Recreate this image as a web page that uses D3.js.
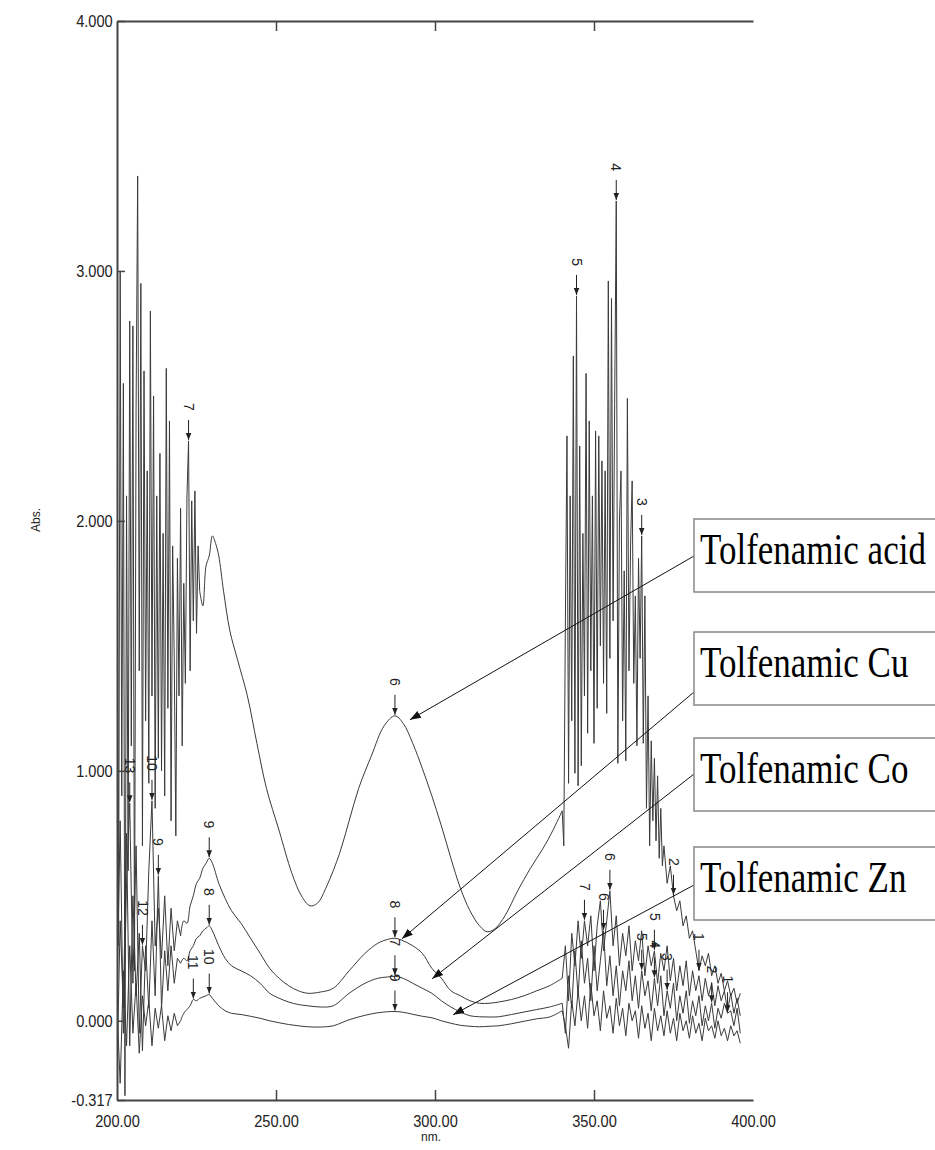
<!DOCTYPE html>
<html>
<head>
<meta charset="utf-8">
<script src="https://cdn.jsdelivr.net/npm/d3@7"></script>
<style>
  body { margin: 0; background: #fff; }
  svg { display: block; }
</style>
</head>
<body>
<svg id="chart" width="935" height="1150"></svg>
<script>
// ---- axis ticks ----
const xTicks = [200, 250, 300, 350, 400];
const yTicks = [4, 3, 2, 1, 0, -0.317];

// ---- Tolfenamic acid ----
// 200 - 226 nm, every 0.5 nm (noisy, saturated)
const acidLeft = [
  2.65, 0.30, 3.00, 0.90, 2.55, -0.30, 2.10, 0.60, 2.80, 1.10,
  2.78, 0.20, 2.45, 3.38, 1.40, 2.95, 0.70, 2.60, 1.20, 2.20,
  0.95, 2.84, 1.30, 2.50, 0.85, 2.10, 1.05, 2.27, 1.00, 1.95,
  0.90, 2.61, 1.25, 2.40, 0.80, 1.90, 1.45, 0.74, 1.85, 1.30,
  2.05, 1.10, 1.75, 1.35, 2.10, 2.32, 1.40, 2.08, 1.60, 2.12,
  1.55, 1.90, 1.72
];
const acidMidNm = [226, 227, 228, 229, 230, 231, 232, 233.5, 235.5, 238, 241, 244, 247, 251, 255, 258,
  260.7, 263, 266, 270, 273, 276, 280, 284, 287.4, 290, 293, 296, 299, 302, 305, 308, 311, 314,
  316.4, 319, 322, 326, 330, 334, 337, 340];
const acidMid = [1.72, 1.66, 1.82, 1.86, 1.94, 1.91, 1.86, 1.72, 1.56, 1.44, 1.30, 1.11, 0.93, 0.76, 0.59, 0.50,
  0.46, 0.47, 0.54, 0.67, 0.80, 0.93, 1.06, 1.18, 1.22, 1.19, 1.11, 1.01, 0.90, 0.78, 0.65, 0.53, 0.44, 0.38,
  0.356, 0.37, 0.42, 0.52, 0.61, 0.69, 0.76, 0.84];
// 340 - 372 nm, every 0.5 nm
const acidRight = [
  0.84, 0.70, 1.60, 2.34, 0.95, 2.10, 1.20, 2.66, 0.99, 2.90,
  0.94, 2.30, 1.02, 1.95, 1.30, 2.59, 1.15, 2.40, 1.40, 2.10,
  1.11, 2.36, 1.25, 2.34, 1.50, 2.24, 1.35, 2.20, 1.23, 2.96,
  1.45, 2.89, 1.60, 2.47, 3.28, 1.03, 2.00, 2.20, 1.20, 1.80,
  1.04, 2.49, 1.40, 1.90, 2.16, 1.35, 1.70, 1.10, 1.85, 1.45,
  1.94, 1.11, 1.70, 0.85, 1.30, 0.70, 1.12, 0.80, 1.05, 0.72,
  0.98, 0.65, 0.85, 0.62, 0.70
];
// 373 - 396 nm, every 1 nm
const acidTail = [0.55, 0.62, 0.50, 0.44, 0.48, 0.38, 0.42, 0.33, 0.36, 0.28, 0.20, 0.26,
  0.22, 0.27, 0.18, 0.22, 0.15, 0.19, 0.12, 0.16, 0.10, 0.13, 0.07, 0.11];

// ---- metal complexes ----
// 200 - 220 nm, every 1 nm
const cuLeft = [0.10, 0.80, -0.05, 0.55, 0.87, 0.15, 0.70, -0.05, 0.30, 0.20, 0.60, 0.88, 0.30, 0.45, 0.25, 0.50, 0.22, 0.45, 0.28, 0.40, 0.34];
const coLeft = [-0.20, 0.40, 0.05, 0.75, -0.10, 0.50, 0.10, 0.35, -0.12, 0.30, 0.05, 0.40, 0.10, 0.58, 0.05, 0.28, 0.12, 0.30, 0.15, 0.25, 0.23];
const znLeft = [0.05, -0.25, 0.20, -0.10, 0.30, -0.05, 0.15, -0.13, 0.10, -0.02, 0.08, -0.10, 0.05, -0.03, 0.06, -0.08, 0.02, -0.04, 0.03, -0.02, 0.00];

const metalMidNm = [220, 221, 222, 223, 224, 225, 226, 227, 228, 229, 230, 232, 234, 236, 239, 242, 245, 248,
  251, 254, 257, 260, 264, 268, 273, 278, 282, 285, 287.4, 290, 293, 296, 299, 302, 305, 308, 311, 314,
  317, 320, 324, 328, 332, 336, 340];
const cuMid = [0.34, 0.40, 0.39, 0.46, 0.50, 0.55, 0.57, 0.61, 0.63, 0.65, 0.63, 0.55, 0.49, 0.44, 0.39, 0.33, 0.27, 0.21,
  0.17, 0.14, 0.12, 0.11, 0.115, 0.13, 0.20, 0.27, 0.31, 0.325, 0.33, 0.32, 0.30, 0.27, 0.21, 0.17, 0.12, 0.10, 0.08, 0.07,
  0.07, 0.075, 0.085, 0.10, 0.12, 0.14, 0.17];
const coMid = [0.23, 0.25, 0.24, 0.28, 0.30, 0.33, 0.34, 0.36, 0.37, 0.38, 0.36, 0.30, 0.25, 0.22, 0.20, 0.18, 0.15, 0.11,
  0.09, 0.075, 0.065, 0.06, 0.055, 0.06, 0.11, 0.15, 0.17, 0.175, 0.178, 0.17, 0.15, 0.13, 0.11, 0.08, 0.055, 0.035, 0.02, 0.016,
  0.015, 0.016, 0.025, 0.035, 0.045, 0.055, 0.07];
const znMid = [0.00, 0.03, 0.045, 0.06, 0.085, 0.08, 0.09, 0.095, 0.10, 0.105, 0.09, 0.06, 0.04, 0.03, 0.025, 0.018, 0.01, 0.0,
  -0.008, -0.015, -0.02, -0.024, -0.025, -0.02, 0.004, 0.022, 0.032, 0.036, 0.037, 0.034, 0.026, 0.018, 0.012, 0.0, -0.01, -0.018, -0.022, -0.024,
  -0.022, -0.02, -0.012, -0.002, 0.008, 0.015, 0.04];

// 340 - 396 nm, every 1 nm
const cuRight = [
  0.17, 0.30, 0.08, 0.35, 0.22, 0.40, 0.25, 0.40, 0.30, 0.42,
  0.20, 0.38, 0.48, 0.28, 0.40, 0.52, 0.30, 0.42, 0.22, 0.35,
  0.26, 0.38, 0.20, 0.32, 0.24, 0.36, 0.18, 0.30, 0.22, 0.28,
  0.15, 0.27, 0.20, 0.30, 0.16, 0.25, 0.12, 0.22, 0.14, 0.24,
  0.10, 0.20, 0.12, 0.18, 0.08, 0.17, 0.10, 0.15, 0.06, 0.14,
  0.08, 0.12, 0.04, 0.11, 0.03, 0.09, 0.02
];
const coRight = [
  0.07, -0.05, 0.18, 0.05, 0.28, 0.10, 0.32, 0.15, 0.25, 0.08,
  0.30, 0.12, 0.24, 0.36, 0.14, 0.26, 0.10, 0.22, 0.06, 0.20,
  0.12, 0.24, 0.08, 0.18, 0.05, 0.20, 0.10, 0.16, 0.04, 0.17,
  0.06, 0.18, 0.02, 0.12, 0.05, 0.15, 0.00, 0.10, 0.03, 0.12,
  -0.01, 0.08, 0.02, 0.10, -0.02, 0.06, 0.00, 0.07, -0.03, 0.05,
  0.01, 0.07, 0.03, 0.04, -0.02, 0.05, -0.05
];
const znRight = [
  0.04, -0.02, -0.11, 0.08, -0.02, 0.12, 0.00, 0.10, -0.03, 0.15,
  0.02, 0.08, -0.04, 0.12, 0.01, 0.06, -0.05, 0.09, -0.02, 0.05,
  -0.06, 0.07, 0.00, 0.04, -0.07, 0.06, -0.03, 0.03, -0.08, 0.05,
  -0.04, 0.02, -0.06, 0.04, -0.05, 0.01, -0.08, 0.03, -0.04, 0.00,
  -0.07, 0.02, -0.05, -0.01, -0.08, 0.01, -0.04, -0.02, -0.07, 0.00,
  -0.06, -0.03, -0.08, -0.02, -0.06, -0.04, -0.09
];

// ---- peak picks [nm, label] ----
const acidPeaks = [[222.5, "7"], [287.4, "6"], [344.5, "5"], [357, "4"], [365, "3"], [375, "2"], [383, "1"]];
const cuPeaks = [[204, "13"], [208, "12"], [211, "10"], [229, "9"], [287.4, "8"], [347, "7"], [355, "6"], [369, "5"]];
const coPeaks = [[213, "9"], [229, "8"], [287.4, "7"], [353, "6"], [365, "5"], [369, "4"], [373, "3"], [387, "2"], [392, "1"]];
const znPeaks = [[224, "11"], [229, "10"], [287.4, "9"]];

// ---- legend boxes and their pointers ----
const legendNames = ["Tolfenamic acid", "Tolfenamic Cu", "Tolfenamic Co", "Tolfenamic Zn"];
const pointerNm = [292.1, 289.6, 299.1, 305.7];
const pointerAbs = [1.204, 0.328, 0.168, 0.024];

// layout
const boxTop = [519, 632, 738, 847];
const boxAnchor = [37, 60, 36, 38];

const svg = d3.select("#chart");
const x = d3.scaleLinear([200, 400], [117, 753]);
const y = d3.scaleLinear([-0.317, 4], [1100, 21]);

const zip = (nm, v) => nm.map((d, i) => [d, v[i]]);
const grid = (a, b, s) => d3.range(a, b + s / 2, s);

const series = [
  {name: "acid", left: zip(grid(200, 226, 0.5), acidLeft), mid: zip(acidMidNm, acidMid),
    right: zip(grid(340, 372, 0.5), acidRight).concat(zip(grid(373, 396, 1), acidTail)), peaks: acidPeaks},
  {name: "cu", left: zip(grid(200, 220, 1), cuLeft), mid: zip(metalMidNm, cuMid),
    right: zip(grid(340, 396, 1), cuRight), peaks: cuPeaks},
  {name: "co", left: zip(grid(200, 220, 1), coLeft), mid: zip(metalMidNm, coMid),
    right: zip(grid(340, 396, 1), coRight), peaks: coPeaks},
  {name: "zn", left: zip(grid(200, 220, 1), znLeft), mid: zip(metalMidNm, znMid),
    right: zip(grid(340, 396, 1), znRight), peaks: znPeaks}
];

const defs = svg.append("defs");
defs.append("clipPath").attr("id", "plot")
  .append("rect").attr("x", 117).attr("y", 21).attr("width", 636).attr("height", 1079);
defs.append("marker")
  .attr("id", "pointer")
  .attr("viewBox", "0 -5 10 10")
  .attr("refX", 10).attr("refY", 0)
  .attr("markerWidth", 11).attr("markerHeight", 11)
  .attr("markerUnits", "userSpaceOnUse")
  .attr("orient", "auto")
  .append("path").attr("d", "M0,-3.6L10,0L0,3.6Z").attr("fill", "#111");
defs.append("marker")
  .attr("id", "peak")
  .attr("viewBox", "0 -5 10 10")
  .attr("refX", 10).attr("refY", 0)
  .attr("markerWidth", 7).attr("markerHeight", 7)
  .attr("markerUnits", "userSpaceOnUse")
  .attr("orient", "auto")
  .append("path").attr("d", "M0,-4L10,0L0,4Z").attr("fill", "#222");

// spectra
const noisy = d3.line().x(d => x(d[0])).y(d => y(d[1]));
const smooth = d3.line().x(d => x(d[0])).y(d => y(d[1])).curve(d3.curveCatmullRom);

const traces = svg.append("g")
  .attr("clip-path", "url(#plot)")
  .attr("fill", "none")
  .attr("stroke", "#3a3a3a")
  .attr("stroke-width", 1);

series.forEach(s => {
  traces.append("path").attr("d", noisy(s.left));
  traces.append("path").attr("d", smooth(s.mid));
  traces.append("path").attr("d", noisy(s.right));
});

// value of a spectrum at a wavelength (for the peak pick arrows)
const bis = d3.bisector(d => d[0]).left;
function valueAt(s, nm) {
  const pts = s.left.concat(s.mid, s.right).sort((a, b) => a[0] - b[0]);
  const i = Math.min(Math.max(bis(pts, nm), 1), pts.length - 1);
  const a = pts[i - 1], b = pts[i];
  if (b[0] === nm) return b[1];
  const t = (nm - a[0]) / (b[0] - a[0] || 1);
  return a[1] + t * (b[1] - a[1]);
}

const picks = svg.append("g").attr("font-family", "'Liberation Sans', Arial, sans-serif").attr("font-size", 14).attr("fill", "#222");
series.forEach(s => {
  s.peaks.forEach(([nm, label]) => {
    const px = x(nm), py = y(valueAt(s, nm)) - 1;
    picks.append("line")
      .attr("x1", px).attr("x2", px)
      .attr("y1", py - 20).attr("y2", py)
      .attr("stroke", "#222").attr("stroke-width", 1)
      .attr("marker-end", "url(#peak)");
    picks.append("text")
      .attr("transform", `translate(${px},${py - 29}) rotate(90)`)
      .attr("text-anchor", "end")
      .attr("dy", "0.35em")
      .text(label);
  });
});

// axes
const fmtY = d => d.toFixed(3);
const fmtX = d => d.toFixed(2);

const yAxis = svg.append("g")
  .attr("transform", "translate(117,0)")
  .call(d3.axisLeft(y).tickValues(yTicks).tickSizeInner(-8).tickSizeOuter(0).tickPadding(5).tickFormat(fmtY));
yAxis.selectAll("text").attr("transform", "scale(0.86,1)");

const xAxis = svg.append("g")
  .attr("transform", "translate(0,1100)")
  .call(d3.axisBottom(x).tickValues(xTicks).tickSizeInner(-10).tickSizeOuter(0).tickPadding(15).tickFormat(fmtX));
xAxis.selectAll(".tick").filter(d => d === 200 || d === 400).select("line").remove();
xAxis.selectAll("text").attr("transform", "scale(0.86,1)");

const topAxis = svg.append("g")
  .attr("transform", "translate(0,21)")
  .call(d3.axisTop(x).tickValues(xTicks.slice(1, 4)).tickSizeInner(-10).tickSizeOuter(0).tickFormat(""));

[yAxis, xAxis, topAxis].forEach(g => {
  g.select(".domain").attr("stroke", "#444").attr("stroke-width", 2);
  g.selectAll(".tick line").attr("stroke", "#444").attr("stroke-width", 1.5);
  g.selectAll("text").attr("font-family", "'Liberation Sans', Arial, sans-serif").attr("font-size", 17).attr("fill", "#222");
});

svg.append("text")
  .attr("transform", "translate(40,520) rotate(-90)")
  .attr("text-anchor", "middle")
  .attr("font-family", "'Liberation Sans', Arial, sans-serif")
  .attr("font-size", 12).attr("fill", "#222")
  .text("Abs.");
svg.append("text")
  .attr("x", 431).attr("y", 1141)
  .attr("text-anchor", "middle")
  .attr("font-family", "'Liberation Sans', Arial, sans-serif")
  .attr("font-size", 12).attr("fill", "#222")
  .text("nm.");

// legend boxes with pointer lines
const legend = svg.append("g");
legendNames.forEach((name, i) => {
  legend.append("line")
    .attr("x1", 694).attr("y1", boxTop[i] + boxAnchor[i])
    .attr("x2", x(pointerNm[i])).attr("y2", y(pointerAbs[i]))
    .attr("stroke", "#111").attr("stroke-width", 1)
    .attr("marker-end", "url(#pointer)");
  legend.append("rect")
    .attr("x", 694).attr("y", boxTop[i])
    .attr("width", 270).attr("height", 73)
    .attr("fill", "#fff")
    .attr("stroke", "#888").attr("stroke-width", 1.5);
  // tall, narrow serif lettering as in the original figure
  legend.append("text")
    .attr("transform", `translate(700,${boxTop[i] + 45}) scale(1,1.27)`)
    .attr("font-family", "'Liberation Serif', 'Times New Roman', serif")
    .attr("font-size", 35)
    .attr("fill", "#000")
    .text(name);
});
</script>
</body>
</html>
